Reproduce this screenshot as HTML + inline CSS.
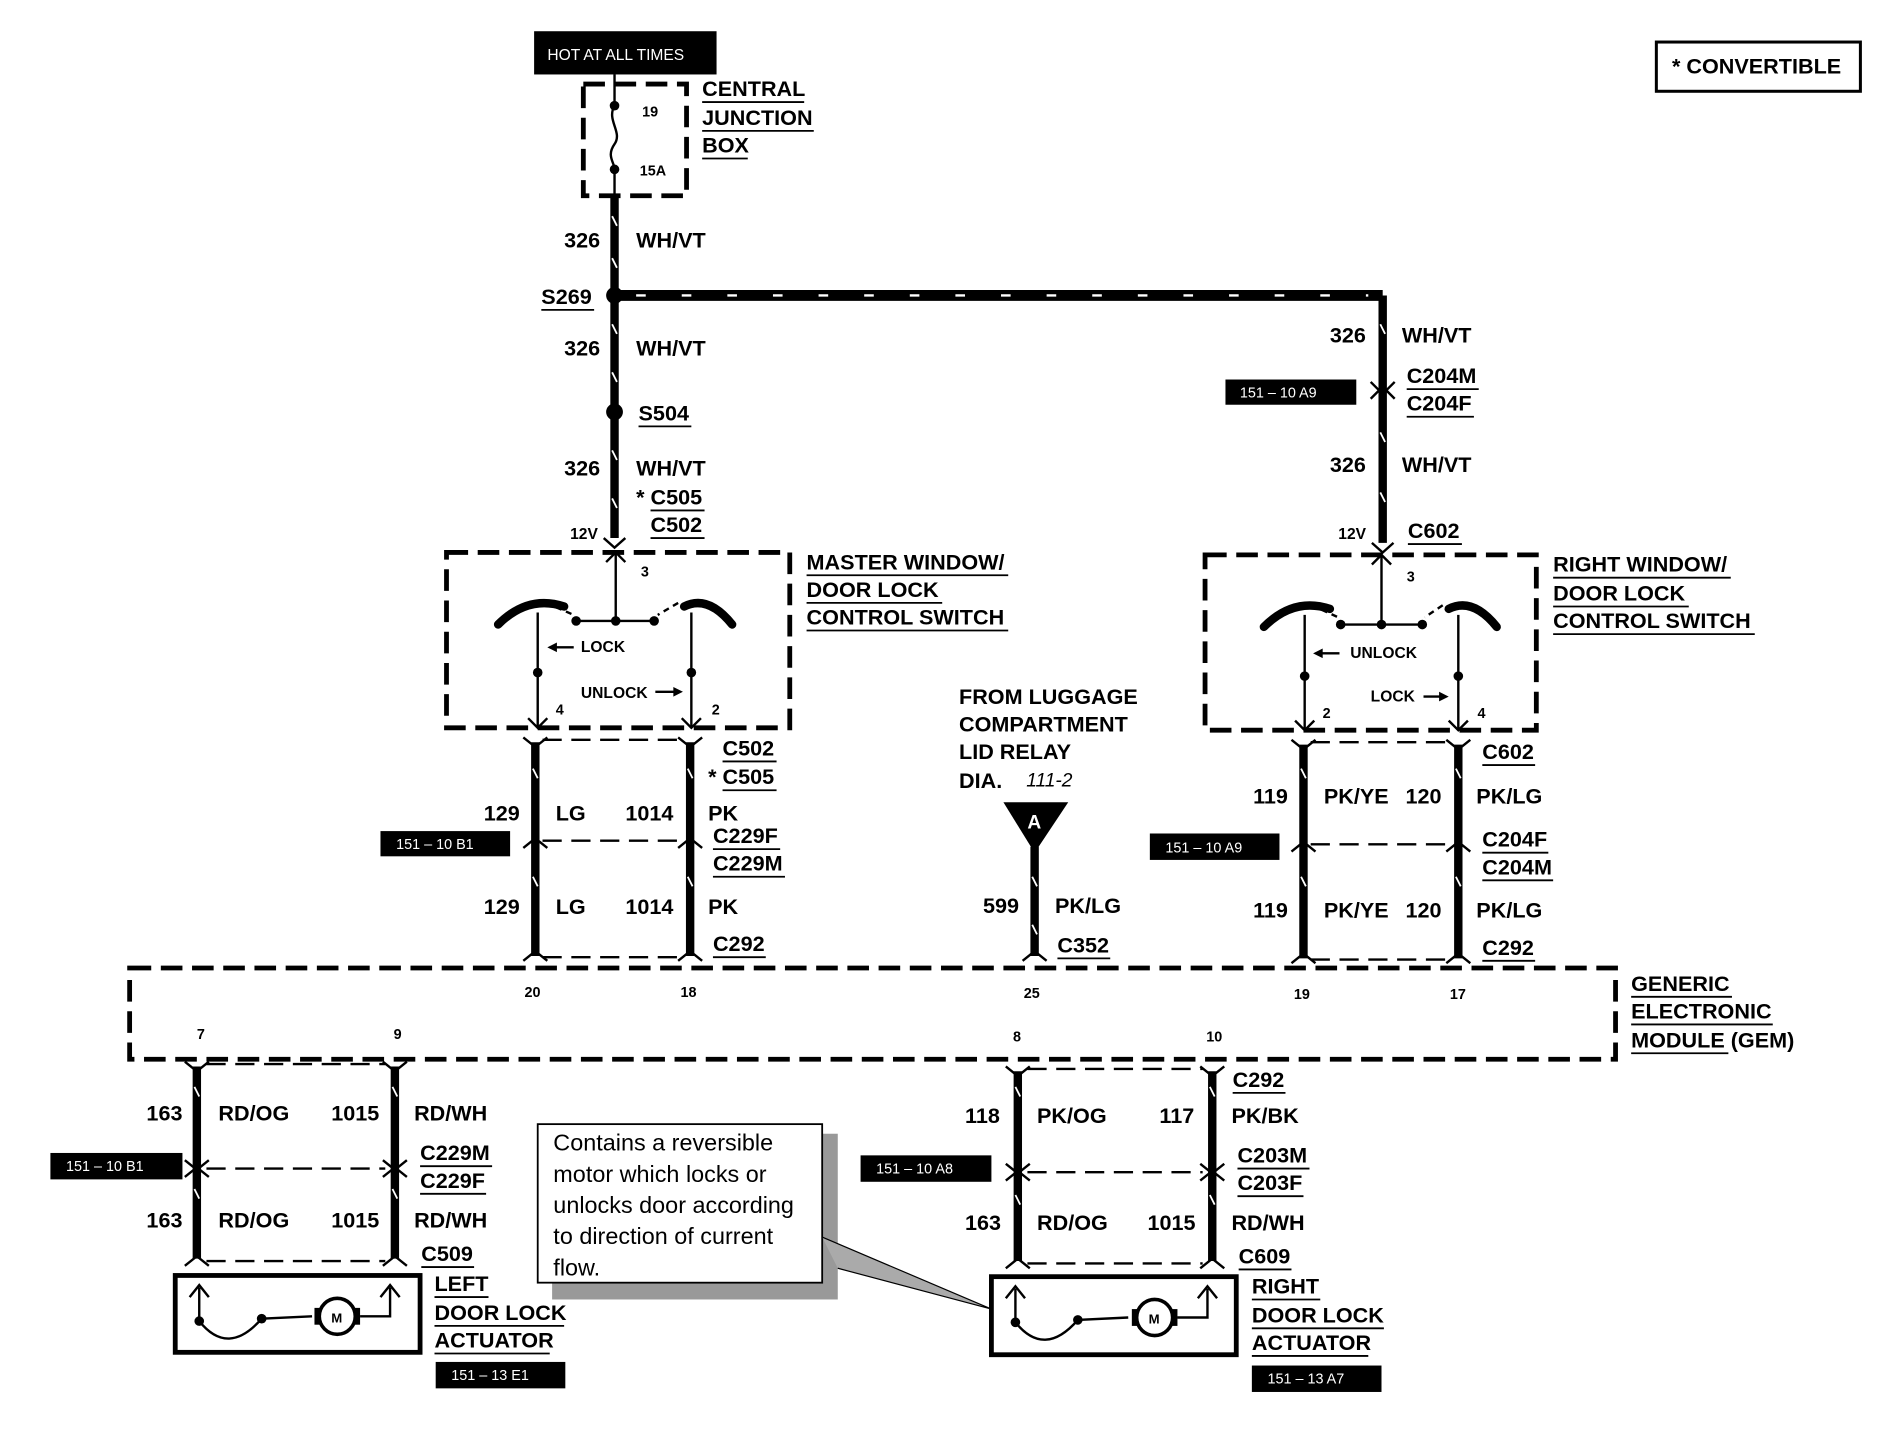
<!DOCTYPE html>
<html><head><meta charset="utf-8"><style>
html,body{margin:0;padding:0;background:#fff;}
svg{display:block;}
text{font-family:"Liberation Sans",sans-serif;font-weight:bold;fill:#000;}
.l{font-size:18px;}
.s{font-size:12px;}
.w{stroke:#000;stroke-width:7;fill:none;}
.t{stroke:#000;stroke-width:2;fill:none;}
.d{stroke:#000;stroke-width:4;fill:none;stroke-dasharray:18 8;}
.dt{stroke:#000;stroke-width:2;fill:none;stroke-dasharray:16 8;}
.u{stroke:#000;stroke-width:1.5;}
</style></head><body>
<svg width="1882" height="1440" viewBox="0 0 1568 1199" preserveAspectRatio="none" xmlns="http://www.w3.org/2000/svg">
<rect width="1600" height="1220" fill="#fff"/>

<rect x="1380" y="35" width="170" height="41" fill="none" stroke="#000" stroke-width="2.5"/>
<text x="1393" y="61" class="l">* CONVERTIBLE</text>

<rect x="445" y="26" width="152" height="36" fill="#000"/>
<text x="456" y="50" font-size="13" style="fill:#fff;font-weight:normal">HOT AT ALL TIMES</text>

<rect x="486" y="70" width="86" height="93" class="d"/>
<line x1="512" y1="62" x2="512" y2="88" class="t"/>
<circle cx="512" cy="88" r="4"/>
<path d="M512 88 C505 100,519 110,512 120 C505 130,512 135,512 141" class="t"/>
<circle cx="512" cy="141" r="4"/>
<line x1="512" y1="141" x2="512" y2="163" class="t"/>
<text x="535" y="97" class="s">19</text>
<text x="533" y="146" class="s" font-size="11">15A</text>
<text x="585" y="80" class="l">CENTRAL</text><line x1="585" y1="85" x2="670" y2="85" class="u"/>
<text x="585" y="104" class="l">JUNCTION</text><line x1="585" y1="109" x2="678" y2="109" class="u"/>
<text x="585" y="127" class="l">BOX</text><line x1="585" y1="132" x2="623" y2="132" class="u"/>

<line x1="512" y1="163" x2="512" y2="448" class="w"/>
<text x="470" y="206" class="l">326</text><text x="530" y="206" class="l">WH/VT</text>
<circle cx="512" cy="246" r="7"/>
<text x="451" y="253" class="l">S269</text><line x1="451" y1="258" x2="495" y2="258" class="u"/>
<line x1="512" y1="246" x2="1152" y2="246" stroke="#000" stroke-width="9"/>
<line x1="530" y1="246" x2="1140" y2="246" stroke="#fff" stroke-width="2" stroke-dasharray="8 30"/>
<line x1="1152" y1="246" x2="1152" y2="452" class="w"/>
<text x="470" y="296" class="l">326</text><text x="530" y="296" class="l">WH/VT</text>
<circle cx="512" cy="343" r="7"/>
<text x="532" y="350" class="l">S504</text><line x1="532" y1="355" x2="576" y2="355" class="u"/>
<text x="470" y="396" class="l">326</text><text x="530" y="396" class="l">WH/VT</text>
<text x="530" y="420" class="l">* C505</text><line x1="542" y1="425" x2="587" y2="425" class="u"/>
<text x="542" y="443" class="l">C502</text><line x1="542" y1="448" x2="587" y2="448" class="u"/>
<text x="475" y="449" font-size="13">12V</text>
<path d="M503 448 L512 456 L521 448" class="t" stroke-width="3"/>

<text x="1108" y="285" class="l">326</text><text x="1168" y="285" class="l">WH/VT</text>
<rect x="1021" y="316" width="109" height="21" fill="#000"/>
<text x="1033" y="331" font-size="12" style="fill:#fff;font-weight:normal">151 – 10 A9</text>
<path d="M1142 318 L1152 328 L1162 318 M1142 332 L1152 322 L1162 332" class="t" stroke-width="3"/>
<text x="1172" y="319" class="l">C204M</text><line x1="1172" y1="324" x2="1232" y2="324" class="u"/>
<text x="1172" y="342" class="l">C204F</text><line x1="1172" y1="347" x2="1228" y2="347" class="u"/>
<text x="1108" y="393" class="l">326</text><text x="1168" y="393" class="l">WH/VT</text>
<text x="1115" y="449" font-size="13">12V</text>
<text x="1173" y="448" class="l">C602</text><line x1="1173" y1="453" x2="1218" y2="453" class="u"/>
<path d="M1143 452 L1152 460 L1161 452" class="t" stroke-width="3"/>

<rect x="372" y="460" width="286" height="146" class="d"/>
<text x="672" y="474" class="l">MASTER WINDOW/</text><line x1="672" y1="479" x2="840" y2="479" class="u"/>
<text x="672" y="497" class="l">DOOR LOCK</text><line x1="672" y1="502" x2="785" y2="502" class="u"/>
<text x="672" y="520" class="l">CONTROL SWITCH</text><line x1="672" y1="525" x2="840" y2="525" class="u"/>
<line x1="513" y1="460" x2="513" y2="517" class="t"/>
<path d="M505 468 L513 460 L521 468" class="t"/>
<text x="534" y="480" class="s">3</text>
<line x1="480" y1="517" x2="545" y2="517" class="t"/>
<circle cx="480" cy="517" r="4"/><circle cx="513" cy="517" r="4"/><circle cx="545" cy="517" r="4"/>
<path d="M415 520 Q440 495 470 505" stroke="#000" stroke-width="7" fill="none" stroke-linecap="round"/>
<path d="M610 520 Q590 495 570 505" stroke="#000" stroke-width="7" fill="none" stroke-linecap="round"/>
<path d="M455 502 L478 512 M565 502 L548 512" class="t" stroke-dasharray="5 4"/>
<line x1="448" y1="510" x2="448" y2="606" class="t"/>
<line x1="576" y1="510" x2="576" y2="606" class="t"/>
<circle cx="448" cy="560" r="4"/><circle cx="576" cy="560" r="4"/>
<path d="M440 598 L448 606 L456 598 M568 598 L576 606 L584 598" class="t"/>
<text x="484" y="543" font-size="13">LOCK</text>
<path d="M458 539 L478 539" class="t" stroke-width="3"/><path d="M456 539 L464 535 L464 543Z"/>
<text x="484" y="581" font-size="13">UNLOCK</text>
<path d="M546 576 L566 576" class="t" stroke-width="3"/><path d="M569 576 L561 572 L561 580Z"/>
<text x="463" y="595" class="s">4</text><text x="593" y="595" class="s">2</text>

<rect x="1004" y="462" width="276" height="146" class="d"/>
<text x="1294" y="476" class="l">RIGHT WINDOW/</text><line x1="1294" y1="481" x2="1442" y2="481" class="u"/>
<text x="1294" y="500" class="l">DOOR LOCK</text><line x1="1294" y1="505" x2="1407" y2="505" class="u"/>
<text x="1294" y="523" class="l">CONTROL SWITCH</text><line x1="1294" y1="528" x2="1462" y2="528" class="u"/>
<line x1="1151" y1="462" x2="1151" y2="520" class="t"/>
<path d="M1143 470 L1151 462 L1159 470" class="t"/>
<text x="1172" y="484" class="s">3</text>
<line x1="1117" y1="520" x2="1185" y2="520" class="t"/>
<circle cx="1117" cy="520" r="4"/><circle cx="1151" cy="520" r="4"/><circle cx="1185" cy="520" r="4"/>
<path d="M1053 522 Q1078 497 1108 507" stroke="#000" stroke-width="7" fill="none" stroke-linecap="round"/>
<path d="M1247 522 Q1227 497 1207 507" stroke="#000" stroke-width="7" fill="none" stroke-linecap="round"/>
<path d="M1093 504 L1115 514 M1202 504 L1187 514" class="t" stroke-dasharray="5 4"/>
<line x1="1087" y1="512" x2="1087" y2="608" class="t"/>
<line x1="1215" y1="512" x2="1215" y2="608" class="t"/>
<circle cx="1087" cy="563" r="4"/><circle cx="1215" cy="563" r="4"/>
<path d="M1079 600 L1087 608 L1095 600 M1207 600 L1215 608 L1223 600" class="t"/>
<text x="1125" y="548" font-size="13">UNLOCK</text>
<path d="M1096 544 L1116 544" class="t" stroke-width="3"/><path d="M1094 544 L1102 540 L1102 548Z"/>
<text x="1142" y="584" font-size="13">LOCK</text>
<path d="M1186 580 L1204 580" class="t" stroke-width="3"/><path d="M1207 580 L1199 576 L1199 584Z"/>
<text x="1102" y="598" class="s">2</text><text x="1231" y="598" class="s">4</text>

<line x1="446" y1="618" x2="446" y2="796" class="w"/>
<line x1="575" y1="618" x2="575" y2="796" class="w"/>
<line x1="452" y1="616" x2="569" y2="616" class="dt"/>
<line x1="452" y1="700" x2="569" y2="700" class="dt"/>
<line x1="452" y1="797" x2="569" y2="797" class="dt"/>
<path d="M436 614 L446 622 L456 614 M565 614 L575 622 L585 614" class="t" stroke-width="3"/>
<path d="M436 706 L446 698 L456 706 M565 706 L575 698 L585 706" class="t" stroke-width="3"/>
<path d="M436 800 L446 792 L456 800 M565 800 L575 792 L585 800" class="t" stroke-width="3"/>
<text x="602" y="629" class="l">C502</text><line x1="602" y1="634" x2="647" y2="634" class="u"/>
<text x="590" y="653" class="l">* C505</text><line x1="602" y1="658" x2="647" y2="658" class="u"/>
<text x="403" y="683" class="l">129</text><text x="463" y="683" class="l">LG</text>
<text x="521" y="683" class="l">1014</text><text x="590" y="683" class="l">PK</text>
<text x="594" y="702" class="l">C229F</text><line x1="594" y1="707" x2="650" y2="707" class="u"/>
<text x="594" y="725" class="l">C229M</text><line x1="594" y1="730" x2="654" y2="730" class="u"/>
<rect x="317" y="692" width="108" height="21" fill="#000"/>
<text x="330" y="707" font-size="12" style="fill:#fff;font-weight:normal">151 – 10 B1</text>
<text x="403" y="761" class="l">129</text><text x="463" y="761" class="l">LG</text>
<text x="521" y="761" class="l">1014</text><text x="590" y="761" class="l">PK</text>
<text x="594" y="792" class="l">C292</text><line x1="594" y1="797" x2="638" y2="797" class="u"/>

<line x1="1086" y1="620" x2="1086" y2="798" class="w"/>
<line x1="1215" y1="620" x2="1215" y2="798" class="w"/>
<line x1="1092" y1="618" x2="1209" y2="618" class="dt"/>
<line x1="1092" y1="703" x2="1209" y2="703" class="dt"/>
<line x1="1092" y1="799" x2="1209" y2="799" class="dt"/>
<path d="M1076 616 L1086 624 L1096 616 M1205 616 L1215 624 L1225 616" class="t" stroke-width="3"/>
<path d="M1076 709 L1086 701 L1096 709 M1205 709 L1215 701 L1225 709" class="t" stroke-width="3"/>
<path d="M1076 802 L1086 794 L1096 802 M1205 802 L1215 794 L1225 802" class="t" stroke-width="3"/>
<text x="1235" y="632" class="l">C602</text><line x1="1235" y1="637" x2="1279" y2="637" class="u"/>
<text x="1044" y="669" class="l">119</text><text x="1103" y="669" class="l">PK/YE</text>
<text x="1171" y="669" class="l">120</text><text x="1230" y="669" class="l">PK/LG</text>
<text x="1235" y="705" class="l">C204F</text><line x1="1235" y1="710" x2="1290" y2="710" class="u"/>
<text x="1235" y="728" class="l">C204M</text><line x1="1235" y1="733" x2="1294" y2="733" class="u"/>
<rect x="958" y="694" width="108" height="22" fill="#000"/>
<text x="971" y="710" font-size="12" style="fill:#fff;font-weight:normal">151 – 10 A9</text>
<text x="1044" y="764" class="l">119</text><text x="1103" y="764" class="l">PK/YE</text>
<text x="1171" y="764" class="l">120</text><text x="1230" y="764" class="l">PK/LG</text>
<text x="1235" y="795" class="l">C292</text><line x1="1235" y1="800" x2="1279" y2="800" class="u"/>

<text x="799" y="586" class="l">FROM LUGGAGE</text>
<text x="799" y="609" class="l">COMPARTMENT</text>
<text x="799" y="632" class="l">LID RELAY</text>
<text x="799" y="656" class="l">DIA.</text><text x="855" y="655" font-size="16" font-style="italic" style="font-weight:normal">111-2</text>
<path d="M836 668 L890 668 L862 710 Z"/>
<text x="856" y="690" font-size="16" style="fill:#fff">A</text>
<line x1="862" y1="705" x2="862" y2="796" class="w"/>
<path d="M852 800 L862 792 L872 800" class="t" stroke-width="3"/>
<text x="819" y="760" class="l">599</text><text x="879" y="760" class="l">PK/LG</text>
<text x="881" y="793" class="l">C352</text><line x1="881" y1="798" x2="925" y2="798" class="u"/>

<rect x="108" y="806" width="1238" height="76" class="d"/>
<text x="1359" y="825" class="l">GENERIC</text><line x1="1359" y1="830" x2="1443" y2="830" class="u"/>
<text x="1359" y="848" class="l">ELECTRONIC</text><line x1="1359" y1="853" x2="1477" y2="853" class="u"/>
<text x="1359" y="872" class="l">MODULE (GEM)</text><line x1="1359" y1="877" x2="1440" y2="877" class="u"/>
<text x="437" y="830" class="s">20</text><text x="567" y="830" class="s">18</text>
<text x="853" y="831" class="s">25</text><text x="1078" y="832" class="s">19</text><text x="1208" y="832" class="s">17</text>
<text x="164" y="865" class="s">7</text><text x="328" y="865" class="s">9</text>
<text x="844" y="867" class="s">8</text><text x="1005" y="867" class="s">10</text>

<line x1="164" y1="888" x2="164" y2="1048" class="w"/>
<line x1="329" y1="888" x2="329" y2="1048" class="w"/>
<line x1="172" y1="886" x2="321" y2="886" class="dt"/>
<line x1="172" y1="973" x2="321" y2="973" class="dt"/>
<line x1="172" y1="1050" x2="321" y2="1050" class="dt"/>
<path d="M154 884 L164 892 L174 884 M319 884 L329 892 L339 884" class="t" stroke-width="3"/>
<path d="M154 966 L164 974 L174 966 M319 966 L329 974 L339 966" class="t" stroke-width="3"/>
<path d="M154 980 L164 972 L174 980 M319 980 L329 972 L339 980" class="t" stroke-width="3"/>
<path d="M154 1054 L164 1046 L174 1054 M319 1054 L329 1046 L339 1054" class="t" stroke-width="3"/>
<text x="122" y="933" class="l">163</text><text x="182" y="933" class="l">RD/OG</text>
<text x="276" y="933" class="l">1015</text><text x="345" y="933" class="l">RD/WH</text>
<text x="350" y="966" class="l">C229M</text><line x1="350" y1="971" x2="410" y2="971" class="u"/>
<text x="350" y="989" class="l">C229F</text><line x1="350" y1="994" x2="405" y2="994" class="u"/>
<rect x="42" y="960" width="110" height="22" fill="#000"/>
<text x="55" y="975" font-size="12" style="fill:#fff;font-weight:normal">151 – 10 B1</text>
<text x="122" y="1022" class="l">163</text><text x="182" y="1022" class="l">RD/OG</text>
<text x="276" y="1022" class="l">1015</text><text x="345" y="1022" class="l">RD/WH</text>
<text x="351" y="1050" class="l">C509</text><line x1="351" y1="1055" x2="395" y2="1055" class="u"/>
<rect x="146" y="1062" width="204" height="64" fill="none" stroke="#000" stroke-width="4"/>
<path d="M166 1072 L166 1100 Q190 1130 218 1098 L260 1096" class="t"/>
<path d="M158 1080 L166 1070 L174 1080" class="t"/>
<circle cx="166" cy="1100" r="4"/><circle cx="218" cy="1098" r="4"/>
<circle cx="281" cy="1096" r="15" fill="#fff" stroke="#000" stroke-width="3"/>
<rect x="262" y="1089" width="5" height="14"/><rect x="295" y="1089" width="5" height="14"/>
<text x="276" y="1101" font-size="11">M</text>
<path d="M300 1096 L325 1096 L325 1072 M317 1080 L325 1070 L333 1080" class="t"/>
<text x="362" y="1075" class="l">LEFT</text><line x1="362" y1="1080" x2="407" y2="1080" class="u"/>
<text x="362" y="1099" class="l">DOOR LOCK</text><line x1="362" y1="1104" x2="470" y2="1104" class="u"/>
<text x="362" y="1122" class="l">ACTUATOR</text><line x1="362" y1="1127" x2="458" y2="1127" class="u"/>
<rect x="363" y="1134" width="108" height="22" fill="#000"/>
<text x="376" y="1149" font-size="12" style="fill:#fff;font-weight:normal">151 – 13 E1</text>

<rect x="460" y="944" width="238" height="138" fill="#999"/>
<rect x="448" y="936" width="237" height="132" fill="#fff" stroke="#000" stroke-width="1.5"/>
<text font-size="19.5" style="font-weight:normal">
<tspan x="461" y="958">Contains a reversible</tspan>
<tspan x="461" y="984">motor which locks or</tspan>
<tspan x="461" y="1010">unlocks door according</tspan>
<tspan x="461" y="1036">to direction of current</tspan>
<tspan x="461" y="1062">flow.</tspan></text>
<path d="M685 1030 L826 1090 L698 1056" fill="#aaa" stroke="#000" stroke-width="1"/>

<line x1="848" y1="892" x2="848" y2="1050" class="w"/>
<line x1="1010" y1="892" x2="1010" y2="1050" class="w"/>
<line x1="856" y1="890" x2="1002" y2="890" class="dt"/>
<line x1="856" y1="976" x2="1002" y2="976" class="dt"/>
<line x1="856" y1="1052" x2="1002" y2="1052" class="dt"/>
<path d="M838 888 L848 896 L858 888 M1000 888 L1010 896 L1020 888" class="t" stroke-width="3"/>
<path d="M838 969 L848 977 L858 969 M1000 969 L1010 977 L1020 969" class="t" stroke-width="3"/>
<path d="M838 983 L848 975 L858 983 M1000 983 L1010 975 L1020 983" class="t" stroke-width="3"/>
<path d="M838 1056 L848 1048 L858 1056 M1000 1056 L1010 1048 L1020 1056" class="t" stroke-width="3"/>
<text x="1027" y="905" class="l">C292</text><line x1="1027" y1="910" x2="1071" y2="910" class="u"/>
<text x="804" y="935" class="l">118</text><text x="864" y="935" class="l">PK/OG</text>
<text x="966" y="935" class="l">117</text><text x="1026" y="935" class="l">PK/BK</text>
<text x="1031" y="968" class="l">C203M</text><line x1="1031" y1="973" x2="1091" y2="973" class="u"/>
<text x="1031" y="991" class="l">C203F</text><line x1="1031" y1="996" x2="1086" y2="996" class="u"/>
<rect x="717" y="962" width="109" height="22" fill="#000"/>
<text x="730" y="977" font-size="12" style="fill:#fff;font-weight:normal">151 – 10 A8</text>
<text x="804" y="1024" class="l">163</text><text x="864" y="1024" class="l">RD/OG</text>
<text x="956" y="1024" class="l">1015</text><text x="1026" y="1024" class="l">RD/WH</text>
<text x="1032" y="1052" class="l">C609</text><line x1="1032" y1="1057" x2="1076" y2="1057" class="u"/>
<rect x="826" y="1063" width="204" height="65" fill="none" stroke="#000" stroke-width="4"/>
<path d="M846 1073 L846 1101 Q870 1131 898 1099 L940 1097" class="t"/>
<path d="M838 1081 L846 1071 L854 1081" class="t"/>
<circle cx="846" cy="1101" r="4"/><circle cx="898" cy="1099" r="4"/>
<circle cx="962" cy="1097" r="15" fill="#fff" stroke="#000" stroke-width="3"/>
<rect x="943" y="1090" width="5" height="14"/><rect x="976" y="1090" width="5" height="14"/>
<text x="957" y="1102" font-size="11">M</text>
<path d="M981 1097 L1006 1097 L1006 1073 M998 1081 L1006 1071 L1014 1081" class="t"/>
<text x="1043" y="1077" class="l">RIGHT</text><line x1="1043" y1="1082" x2="1100" y2="1082" class="u"/>
<text x="1043" y="1101" class="l">DOOR LOCK</text><line x1="1043" y1="1106" x2="1153" y2="1106" class="u"/>
<text x="1043" y="1124" class="l">ACTUATOR</text><line x1="1043" y1="1129" x2="1140" y2="1129" class="u"/>
<rect x="1043" y="1137" width="108" height="22" fill="#000"/>
<text x="1056" y="1152" font-size="12" style="fill:#fff;font-weight:normal">151 – 13 A7</text>

<g stroke="#fff" stroke-width="1.5">
<line x1="510" y1="180" x2="514" y2="188"/><line x1="510" y1="215" x2="514" y2="223"/>
<line x1="510" y1="270" x2="514" y2="278"/><line x1="510" y1="310" x2="514" y2="318"/>
<line x1="510" y1="375" x2="514" y2="383"/><line x1="510" y1="415" x2="514" y2="423"/>
<line x1="1150" y1="270" x2="1154" y2="278"/><line x1="1150" y1="360" x2="1154" y2="368"/><line x1="1150" y1="410" x2="1154" y2="418"/>
<line x1="444" y1="640" x2="448" y2="648"/><line x1="573" y1="640" x2="577" y2="648"/>
<line x1="444" y1="730" x2="448" y2="738"/><line x1="573" y1="730" x2="577" y2="738"/>
<line x1="1084" y1="640" x2="1088" y2="648"/><line x1="1213" y1="640" x2="1217" y2="648"/>
<line x1="1084" y1="730" x2="1088" y2="738"/><line x1="1213" y1="730" x2="1217" y2="738"/>
<line x1="860" y1="730" x2="864" y2="738"/><line x1="860" y1="770" x2="864" y2="778"/>
<line x1="162" y1="905" x2="166" y2="913"/><line x1="327" y1="905" x2="331" y2="913"/>
<line x1="162" y1="990" x2="166" y2="998"/><line x1="327" y1="990" x2="331" y2="998"/>
<line x1="846" y1="905" x2="850" y2="913"/><line x1="1008" y1="905" x2="1012" y2="913"/>
<line x1="846" y1="995" x2="850" y2="1003"/><line x1="1008" y1="995" x2="1012" y2="1003"/>
</g>
</svg>
</body></html>
